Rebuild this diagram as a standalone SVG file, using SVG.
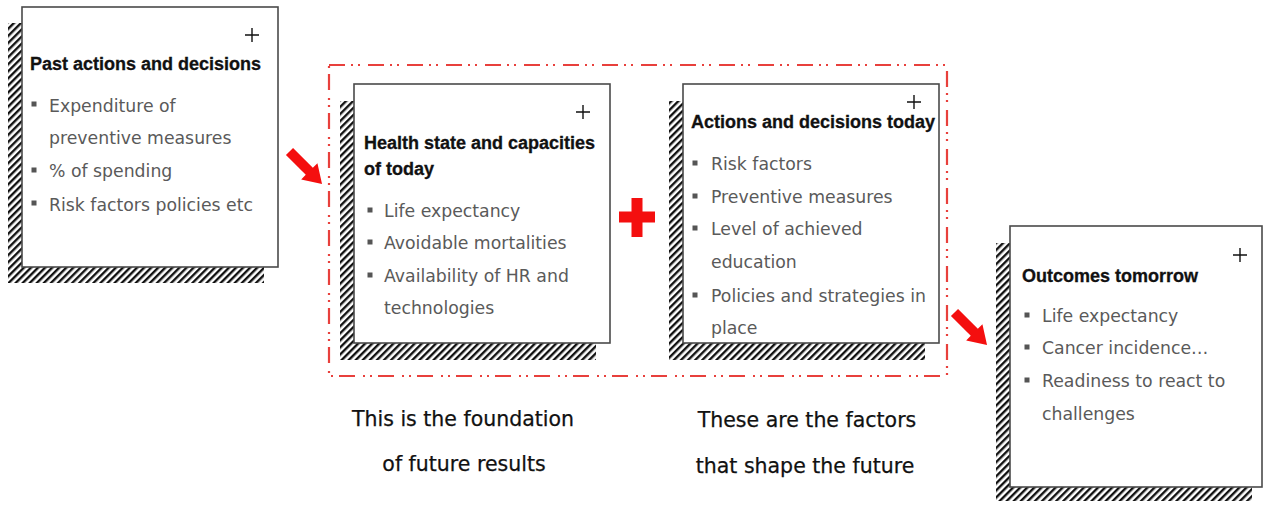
<svg xmlns="http://www.w3.org/2000/svg" width="1266" height="507" viewBox="0 0 1266 507">
  <defs>
    <pattern id="hatch" patternUnits="userSpaceOnUse" width="5" height="5" patternTransform="rotate(45)">
      <rect x="0" y="0" width="5" height="5" fill="#ffffff"/>
      <rect x="0" y="0" width="2.4" height="5" fill="#111111"/>
    </pattern>
    <path id="blockArrow" d="M0,-5 L28,-5 L28,-11.5 L46,0 L28,11.5 L28,5 L0,5 Z"/>
    <path id="cornerPlus" d="M-7,0 H7 M0,-7 V7"/>
  </defs>
  <style>
    .shadow { fill: url(#hatch); }
    .card { fill: #ffffff; stroke: #4a4a4a; stroke-width: 1.6; }
    .mark { stroke: #111111; stroke-width: 1.4; fill: none; }
    .title { font-family: "Liberation Sans", Arial, sans-serif; font-weight: bold; font-size: 18px; fill: #111111; stroke: #111111; stroke-width: 0.3px; }
    .item { font-family: "DejaVu Sans", "Liberation Sans", sans-serif; font-size: 17.3px; fill: #5a5a5a; }
    .dot { fill: #555555; }
    .caption { font-family: "DejaVu Sans", "Liberation Sans", sans-serif; font-size: 20.5px; fill: #111111; stroke: #111111; stroke-width: 0.25px; text-anchor: middle; }
    .frame { fill: none; stroke: #e8403c; stroke-width: 2.2; stroke-dasharray: 16 6 2 5 2 8; }
    .red { fill: #f40f0f; }
  </style>

  <!-- dash-dot frame grouping the two "today" cards -->
  <g id="today-group">
    <rect class="frame" x="329" y="65" width="618" height="311"/>
  </g>

  <g id="past">
    <rect class="shadow" x="8" y="23" width="256" height="260"/>
    <rect class="card" x="22" y="7" width="256" height="260"/>
    <use href="#cornerPlus" class="mark" x="252" y="35"/>
    <text class="title" x="30" y="70">Past actions and decisions</text>
    <rect class="dot" x="31.5" y="101.5" width="5" height="5"/>
    <text class="item" x="49" y="112">Expenditure of</text>
    <text class="item" x="49" y="144">preventive measures</text>
    <rect class="dot" x="31.5" y="167.5" width="5" height="5"/>
    <text class="item" x="49" y="177">% of spending</text>
    <rect class="dot" x="31.5" y="200.5" width="5" height="5"/>
    <text class="item" x="49" y="211">Risk factors policies etc</text>
  </g>

  <g id="health-today">
    <rect class="shadow" x="340" y="101" width="256" height="259"/>
    <rect class="card" x="354" y="84" width="256" height="259"/>
    <use href="#cornerPlus" class="mark" x="583" y="112"/>
    <text class="title" x="364" y="149">Health state and capacities</text>
    <text class="title" x="364" y="175">of today</text>
    <rect class="dot" x="367.5" y="207.5" width="5" height="5"/>
    <text class="item" x="384" y="217">Life expectancy</text>
    <rect class="dot" x="367.5" y="239.5" width="5" height="5"/>
    <text class="item" x="384" y="249">Avoidable mortalities</text>
    <rect class="dot" x="367.5" y="272.5" width="5" height="5"/>
    <text class="item" x="384" y="282">Availability of HR and</text>
    <text class="item" x="384" y="314">technologies</text>
  </g>

  <g id="actions-today">
    <rect class="shadow" x="669" y="101" width="256" height="259"/>
    <rect class="card" x="683" y="84" width="256" height="259"/>
    <use href="#cornerPlus" class="mark" x="914" y="102"/>
    <text class="title" x="691" y="128">Actions and decisions today</text>
    <rect class="dot" x="692.5" y="160.5" width="5" height="5"/>
    <text class="item" x="711" y="170">Risk factors</text>
    <rect class="dot" x="692.5" y="193.5" width="5" height="5"/>
    <text class="item" x="711" y="203">Preventive measures</text>
    <rect class="dot" x="692.5" y="225.5" width="5" height="5"/>
    <text class="item" x="711" y="235">Level of achieved</text>
    <text class="item" x="711" y="268">education</text>
    <rect class="dot" x="692.5" y="292.5" width="5" height="5"/>
    <text class="item" x="711" y="302">Policies and strategies in</text>
    <text class="item" x="711" y="334">place</text>
  </g>

  <g id="outcomes">
    <rect class="shadow" x="996" y="243" width="256" height="258"/>
    <rect class="card" x="1010" y="226" width="252" height="261"/>
    <use href="#cornerPlus" class="mark" x="1240" y="255"/>
    <text class="title" x="1022" y="282">Outcomes tomorrow</text>
    <rect class="dot" x="1024.5" y="312.5" width="5" height="5"/>
    <text class="item" x="1042" y="322">Life expectancy</text>
    <rect class="dot" x="1024.5" y="344.5" width="5" height="5"/>
    <text class="item" x="1042" y="354">Cancer incidence…</text>
    <rect class="dot" x="1024.5" y="377.5" width="5" height="5"/>
    <text class="item" x="1042" y="387">Readiness to react to</text>
    <text class="item" x="1042" y="420">challenges</text>
  </g>

  <!-- red arrows and the plus sign joining the cards -->
  <g id="connectors">
    <use href="#blockArrow" class="red" transform="translate(289.5 151.5) rotate(45)"/>
    <path class="red" d="M631.5,198 H642.5 V211.5 H655 V222.5 H642.5 V237 H631.5 V222.5 H619 V211.5 H631.5 Z"/>
    <use href="#blockArrow" class="red" transform="translate(954.5 312.5) rotate(45)"/>
  </g>

  <g id="captions">
    <text class="caption" x="463" y="426">This is the foundation</text>
    <text class="caption" x="464" y="471">of future results</text>
    <text class="caption" x="807" y="427">These are the factors</text>
    <text class="caption" x="805" y="473">that shape the future</text>
  </g>
</svg>
